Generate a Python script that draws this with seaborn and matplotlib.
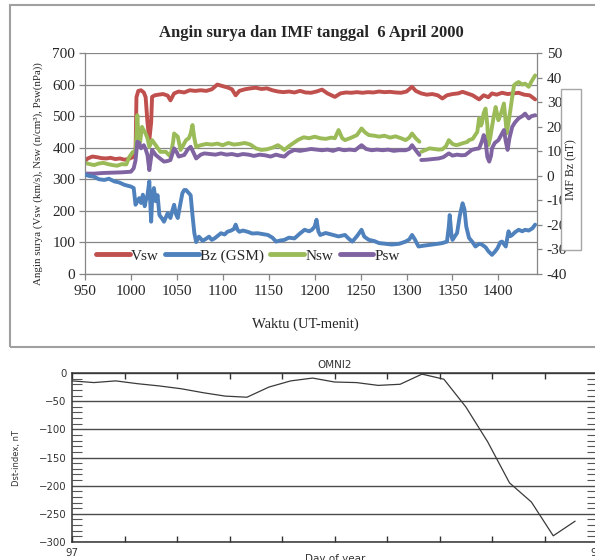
import numpy as np
import pandas as pd
import matplotlib
matplotlib.use("Agg")
import matplotlib.pyplot as plt
from matplotlib.lines import Line2D
from matplotlib.patches import Rectangle
import seaborn as sns

# ---------------- data: top panel (minutes UT) ----------------
vsw_menit = [950, 953, 958, 963, 968, 973, 978, 983, 988, 993, 998, 1002, 1005, 1006, 1008, 1011,
             1014, 1016, 1018, 1020, 1022, 1023, 1026, 1030, 1035, 1040, 1043, 1047, 1052, 1058,
             1064, 1070, 1076, 1082, 1088, 1094, 1100, 1106, 1110, 1114, 1118, 1124, 1130, 1136,
             1142, 1148, 1154, 1160, 1166, 1172, 1178, 1184, 1190, 1196, 1202, 1208, 1214, 1222,
             1228, 1234, 1240, 1246, 1252, 1258, 1264, 1270, 1276, 1282, 1288, 1294, 1300, 1306,
             1310, 1316, 1322, 1328, 1334, 1339, 1344, 1350, 1356, 1361, 1366, 1372, 1379, 1384,
             1389, 1393, 1398, 1404, 1410, 1416, 1422, 1428, 1434, 1440]
vsw = [358, 366, 372, 370, 367, 366, 368, 364, 366, 362, 365, 370, 380, 560, 580, 582,
       575, 560, 480, 424, 480, 561, 566, 568, 570, 565, 550, 572, 578, 575,
       582, 580, 582, 580, 585, 600, 595, 590, 585, 566, 580, 585, 588, 590,
       586, 588, 582, 578, 576, 578, 575, 580, 575, 574, 578, 584, 572, 561,
       572, 575, 574, 576, 574, 576, 575, 578, 576, 577, 575, 574, 578, 593,
       580, 572, 568, 570, 566, 556, 566, 570, 572, 577, 572, 566, 553, 566,
       560, 572, 568, 574, 570, 572, 574, 568, 566, 553]

nsw_menit = [950, 955, 960, 965, 970, 975, 980, 985, 990, 995, 998, 1002, 1005, 1006, 1007, 1008,
             1010, 1012, 1014, 1016, 1018, 1020, 1023, 1027, 1032, 1038, 1043, 1046, 1047, 1051,
             1054, 1060, 1063, 1065, 1067, 1069, 1071, 1076, 1082, 1088, 1094, 1100, 1106, 1112,
             1118, 1124, 1130, 1136, 1142, 1148, 1154, 1160, 1164, 1167, 1172, 1176, 1182, 1188,
             1194, 1200, 1206, 1212, 1218, 1222, 1226, 1230, 1233, 1240, 1246, 1251, 1255, 1259,
             1265, 1270, 1276, 1282, 1288, 1294, 1299, 1303, 1306, 1310, 1314, 1315,
             1316, 1320, 1325, 1330, 1335, 1339, 1343, 1346, 1350, 1354, 1357, 1362, 1366, 1368,
             1372, 1377, 1379, 1381, 1382, 1384, 1386, 1388, 1389, 1391, 1393, 1395, 1397, 1399,
             1400, 1403, 1406, 1408, 1409, 1411, 1413, 1415, 1417, 1420, 1422, 1426, 1429, 1433,
             1436, 1440]
nsw = [352, 348, 345, 350, 352, 348, 345, 343, 348, 347, 370, 386, 390, 440, 503, 440,
       418, 466, 455, 445, 430, 403, 424, 408, 387, 387, 372, 420, 445, 435,
       393, 424, 430, 445, 472, 430, 403, 408, 412, 410, 413, 408, 415, 410,
       412, 415, 410, 398, 393, 395, 400, 408, 400, 393, 405, 413, 425, 433,
       430, 435, 430, 428, 432, 430, 456, 430, 424, 432, 440, 461, 448, 440,
       438, 435, 438, 432, 436, 430, 424, 432, 445, 430, 419, np.nan,
       387, 392, 398, 396, 394, 395, 405, 424, 412, 408, 410, 415, 418, 424,
       428, 450, 493, 470, 477, 510, 524, 470, 408, 430, 466, 500, 529, 500,
       487, 510, 540, 480, 445, 480, 519, 560, 598, 605, 608, 600, 603, 593,
       610, 629]

psw_menit = [950, 960, 970, 980, 990, 1000, 1003, 1005, 1007, 1009, 1011, 1014, 1016, 1018, 1020,
             1022, 1023, 1027, 1032, 1036, 1040, 1043, 1047, 1050, 1052, 1058, 1062, 1065, 1068,
             1071, 1076, 1080, 1086, 1092, 1098, 1104, 1110, 1116, 1122, 1128, 1134, 1140, 1146,
             1152, 1158, 1163, 1167, 1172, 1178, 1184, 1190, 1196, 1202, 1208, 1214, 1220, 1226,
             1232, 1238, 1244, 1251, 1256, 1262, 1268, 1274, 1280, 1286, 1292, 1299, 1303, 1306,
             1310, 1314, 1315,
             1316, 1322, 1328, 1335, 1340, 1346, 1350, 1355, 1360, 1364, 1368, 1371, 1375, 1379,
             1382, 1384, 1386, 1388, 1390, 1392, 1393, 1396, 1400, 1403, 1406, 1408, 1410, 1412,
             1415, 1418, 1422, 1426, 1429, 1433, 1436, 1440]
psw = [318, 318, 320, 321, 322, 324, 335, 360, 419, 415, 398, 408, 395, 377, 329,
       370, 393, 377, 365, 356, 358, 361, 398, 385, 372, 377, 395, 403, 385,
       366, 378, 382, 380, 378, 382, 378, 380, 376, 380, 378, 374, 378, 376,
       372, 378, 374, 372, 385, 393, 390, 393, 396, 394, 392, 394, 390, 396,
       392, 394, 392, 408, 396, 392, 394, 392, 394, 390, 392, 392, 396, 408,
       392, 377, np.nan,
       361, 362, 364, 366, 370, 382, 375, 378, 376, 377, 386, 393, 396, 398,
       420, 440, 420, 370, 356, 375, 398, 415, 424, 440, 456, 420, 393, 430,
       466, 480, 493, 500, 508, 493, 500, 503]

bz_menit = [950, 955, 960, 965, 971, 976, 982, 987, 993, 1000, 1003, 1005, 1007, 1009, 1011, 1013,
            1015, 1016, 1018, 1020, 1022, 1023, 1025, 1027, 1029, 1031, 1034, 1036, 1040, 1043,
            1045, 1047, 1049, 1051, 1053, 1056, 1058, 1060, 1063, 1065, 1067, 1069, 1071, 1074,
            1078, 1082, 1085, 1088, 1091, 1095, 1098, 1102, 1105, 1109, 1112, 1114, 1116, 1118,
            1122, 1127, 1132, 1138, 1144, 1149, 1154, 1158, 1162, 1167, 1172, 1178, 1184, 1189,
            1194, 1197, 1200, 1202, 1204, 1206, 1212, 1218, 1226, 1233, 1237, 1241, 1246, 1251,
            1254, 1259, 1265, 1270, 1277, 1284, 1292, 1299, 1303, 1306, 1309, 1313, 1320, 1328,
            1334, 1339, 1344, 1346, 1347, 1349, 1350, 1355, 1358, 1361, 1363, 1365, 1368, 1372,
            1375, 1379, 1382, 1386, 1389, 1393, 1396, 1399, 1402, 1404, 1408, 1411, 1413, 1415,
            1418, 1422, 1426, 1429, 1433, 1437, 1440]
bz = [0.4, -0.1, -0.4, -1.4, -1.7, -1.2, -2.3, -2.7, -3.7, -4.4, -5.0, -11.8, -10.4, -9.1, -11.1, -7.7,
      -12.4, -10.4, -7.9, -2.3, -18.7, -10.4, -5.0, -10.4, -7.9, -16.0, -17.5, -18.7, -15.2, -17.2,
      -14.3, -11.8, -15.6, -17.2, -13.0, -7.1, -5.8, -5.8, -7.1, -7.9, -16.0, -23.3, -27.0, -24.8,
      -26.5, -25.6, -24.8, -26.1, -25.5, -24.3, -23.4, -23.9, -22.8, -22.3, -21.7, -19.9, -22.0, -22.8,
      -22.3, -22.8, -23.5, -23.4, -23.8, -24.1, -25.2, -26.8, -26.4, -26.1, -25.2, -25.5, -23.5, -22.0,
      -22.6, -22.0, -20.7, -17.9, -22.6, -24.1, -23.3, -23.9, -24.7, -24.1, -25.6, -26.8, -24.6, -22.0,
      -24.8, -26.1, -26.6, -27.4, -27.7, -28.0, -27.7, -26.8, -25.9, -24.1, -25.9, -28.8, -28.4, -28.0,
      -27.7, -27.4, -26.8, -20.7, -16.0, -24.6, -26.1, -23.3, -16.2, -11.2, -13.6, -20.7, -25.3, -27.1,
      -28.8, -27.7, -28.0, -29.1, -30.7, -32.2, -31.0, -29.5, -27.1, -26.8, -28.8, -22.6, -24.6, -24.1,
      -23.0, -22.0, -22.6, -22.0, -22.3, -21.4, -19.9]

series_labels = ["Vsw", "Bz (GSM)", "Nsw", "Psw"]
series_colors = ["#C0504D", "#4F81BD", "#9BBB59", "#8064A2"]
x_ticks_top = [950, 1000, 1050, 1100, 1150, 1200, 1250, 1300, 1350, 1400]
y_ticks_left = [0, 100, 200, 300, 400, 500, 600, 700]
y_ticks_right = [-40, -30, -20, -10, 0, 10, 20, 30, 40, 50]
y_ticklabels_right = ["-40", "-30", "-20", "-10", "0", "10", "20", "30", "40", "50"]

# ---------------- data: bottom panel (hourly Dst, day 97) ----------------
dst_jam = list(range(24))
dst = [-14, -17, -14, -19, -23, -28, -35, -41, -43, -25, -14, -9, -16, -17, -22, -20,
       -2, -11, -60, -122, -195, -229, -289, -263]
dst_yticks = [-300, -250, -200, -150, -100, -50, 0]
dst_yticklabels = ["\u2212300", "\u2212250", "\u2212200", "\u2212150", "\u2212100", "\u221250", "0"]
dst_xticks = [97.0, 97.1, 97.2, 97.3, 97.4, 97.5, 97.6, 97.7, 97.8, 97.9, 98.0]
dst_xticklabels = ["97", "", "", "", "", "", "", "", "", "", "98"]


def seg_frame(xs, ys):
    df = pd.DataFrame({"menit": xs, "nilai": ys})
    df["seg"] = df["nilai"].isna().cumsum()
    return df.dropna()


sns.set_style("white")
plt.rcParams["font.family"] = ["Liberation Serif", "DejaVu Serif"]

W, H = 595, 560
fig = plt.figure(figsize=(W / 100, H / 100), dpi=100)


def fx(px):
    return px / W


def fy(py):
    return 1 - py / H


# outer frame of the top panel
fig.patches.append(Rectangle((fx(10), fy(347)), fx(600) - fx(10), fy(5) - fy(347),
                             transform=fig.transFigure, fill=False,
                             edgecolor="#a0a0a0", lw=1.5, zorder=0))

ax = fig.add_axes([fx(85), fy(274), fx(537) - fx(85), fy(53) - fy(274)])
ax2 = ax.twinx()
lw = 2.8
grey = "#868686"

sns.lineplot(x=vsw_menit, y=vsw, ax=ax, color=series_colors[0], lw=lw, legend=False)
sns.lineplot(data=seg_frame(nsw_menit, nsw), x="menit", y="nilai", units="seg",
             estimator=None, ax=ax, color=series_colors[2], lw=lw, legend=False)
sns.lineplot(data=seg_frame(psw_menit, psw), x="menit", y="nilai", units="seg",
             estimator=None, ax=ax, color=series_colors[3], lw=lw, legend=False)
sns.lineplot(x=bz_menit, y=bz, ax=ax2, color=series_colors[1], lw=lw, legend=False)

ax.set_xlim(950, 1442)
ax.set_ylim(0, 700)
ax2.set_ylim(-40, 50)
ax.set_xticks(x_ticks_top)
ax.set_yticks(y_ticks_left)
ax2.set_yticks(y_ticks_right, labels=y_ticklabels_right)
ax.set_xlabel("")
ax.set_ylabel("")
ax2.set_ylabel("")

ax.yaxis.grid(True, color=grey, lw=0.9)
ax.xaxis.grid(False)
ax.set_axisbelow(True)
for s in ["top", "right"]:
    ax.spines[s].set_visible(False)
for s in ["left", "bottom"]:
    ax.spines[s].set_color(grey)
    ax.spines[s].set_linewidth(0.9)
for s in ["top", "left", "bottom"]:
    ax2.spines[s].set_visible(False)
ax2.spines["right"].set_color(grey)
ax2.spines["right"].set_linewidth(0.9)

ax.tick_params(axis="both", direction="out", length=4, width=0.9, color=grey,
               labelsize=11, pad=3, left=True, bottom=True)
ax.tick_params(axis="x", pad=4)
ax2.tick_params(axis="y", direction="out", length=3.5, width=0.9, color=grey,
                labelsize=11, pad=3.5, right=True)

handles = [Line2D([], [], color=c, lw=3.5) for c in series_colors]
ax.legend(handles, series_labels, loc="center left", ncol=4, frameon=False,
          bbox_to_anchor=((96 - 85) / 452, (274 - 256) / 221), borderaxespad=0,
          borderpad=0, fontsize=11, handlelength=2.2, handletextpad=0.1,
          columnspacing=0.4)

fig.text(fx(311), fy(33), "Angin surya dan IMF tanggal  6 April 2000", ha="center",
         va="center", fontsize=12, fontweight="bold")
fig.text(fx(305), fy(324), "Waktu (UT-menit)", ha="center", va="center", fontsize=10.5)
fig.text(fx(38), fy(174), "Angin surya (Vsw (km/s), Nsw (n/cm\u00b3), Psw(nPa))",
         ha="center", va="center", rotation=90, fontsize=7.8)

# axis title box for IMF Bz
fig.patches.append(Rectangle((fx(561), fy(250)), fx(581) - fx(561), fy(89) - fy(250),
                             transform=fig.transFigure, facecolor="white",
                             edgecolor="#a6a6a6", lw=1.0, zorder=5))
fig.text(fx(571), fy(170), "IMF Bz (nT)", ha="center", va="center", rotation=90,
         fontsize=8.5, zorder=6)

# ---------------- bottom panel: OMNI2 Dst ----------------
bx = fig.add_axes([fx(72), fy(542), fx(597) - fx(72), fy(373) - fy(542)])
dst_x = [97 + h / 24 for h in dst_jam]
sns.lineplot(x=dst_x, y=dst, ax=bx, color="#3a3a3a", lw=0.9, legend=False)
bx.set_xlim(97, 98)
bx.set_ylim(-300, 0)
sans = "DejaVu Sans"
bx.set_yticks(dst_yticks, labels=dst_yticklabels, fontfamily=sans, fontsize=7.3,
              color="#333333")
bx.set_yticks(np.arange(-300, 1, 10), minor=True)
bx.set_xticks(dst_xticks, labels=dst_xticklabels, fontfamily=sans, fontsize=7.3,
              color="#333333")
bx.set_xlabel("")
bx.set_ylabel("")
bx.yaxis.grid(True, which="major", color="#4a4a4a", lw=1.0)
bx.xaxis.grid(False)
for s in bx.spines.values():
    s.set_visible(True)
    s.set_color("#333333")
    s.set_linewidth(1.1)
bx.tick_params(axis="x", which="major", direction="in", length=4, width=1,
               top=True, bottom=True, color="#333333", pad=4)
bx.tick_params(axis="y", which="major", length=0, pad=4)
bx.tick_params(axis="y", which="minor", direction="in", length=7, width=0.8,
               left=True, right=True, color="#555555")

fig.text(fx(335), fy(365), "OMNI2", ha="center", va="center", fontsize=7.5,
         family=sans, color="#333333")
fig.text(fx(17), fy(458), "Dst-index, nT", ha="center", va="center", rotation=90,
         fontsize=6, family=sans, color="#333333")
fig.text(fx(335), fy(554), "Day of year", ha="center", va="top", fontsize=7.5,
         family=sans, color="#333333")

fig.savefig("out.png", dpi=100)
